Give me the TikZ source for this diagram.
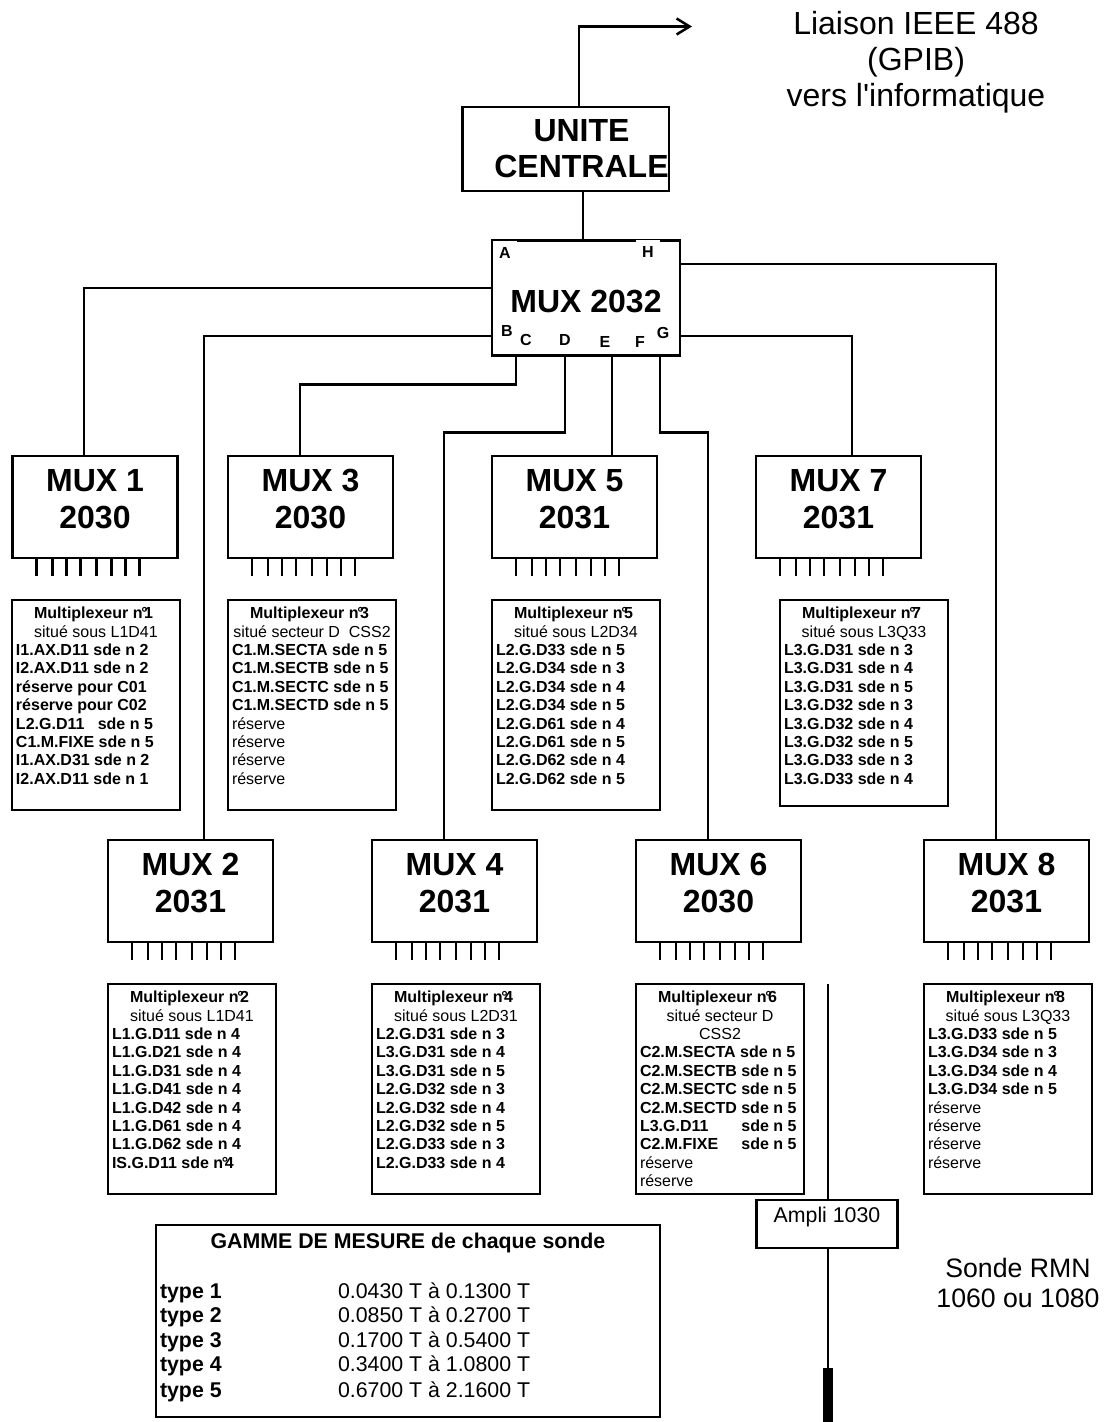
\documentclass[tikz,border=0pt]{standalone}
\usepackage{fontspec}
\setmainfont{Liberation Sans}
\usetikzlibrary{positioning,arrows.meta,calc}
\newcommand{\infotext}[2][147pt]{\parbox[c][#1][t]{120pt}{\fontsize{12}{13.8}\selectfont\raggedright #2}}
\newcommand{\infohead}[1]{\centerline{\textbf{Multiplexeur n\kern-.08em°\kern-.22em#1\kern.3em}}}
\newcommand{\infosub}[1]{\centerline{#1}}
\newcommand{\muxlbl}[2]{#1\\#2\\[-15.6pt]\mbox{}}
\tikzset{
  every node/.style={outer sep=0pt},
  unitbox/.style={draw,line width=2pt,minimum width=155pt,minimum height=63pt,inner sep=0pt,
                  align=center,font=\fontsize{24}{27}\selectfont\bfseries},
  muxbox/.style={draw,line width=2pt,minimum width=123.75pt,minimum height=76.5pt,inner sep=0pt,
                 align=center,font=\fontsize{24}{27.6}\selectfont\bfseries},
  infobox/.style={draw,line width=1.3pt,inner xsep=3pt,inner ysep=5.25pt},
  portlbl/.style={inner sep=0pt,font=\fontsize{12}{14}\selectfont\bfseries},
  wire/.style={line width=1.9pt},
  pintick/.style={line width=1.6pt},
  bigtxt/.style={inner sep=0pt,align=center,font=\fontsize{24}{27}\selectfont},
  sondetxt/.style={inner sep=0pt,align=center,font=\fontsize{20}{22.5}\selectfont},
  gammetxt/.style={inner sep=0pt,anchor=base west,font=\fontsize{16}{18}\selectfont},
}
\begin{document}
\begin{tikzpicture}[x=0.75pt,y=-0.75pt]
  \useasboundingbox (0,0) rectangle (1104,1422);
  % central unit and top multiplexer
  \node[unitbox] (unit) at (565.5,149) {\hspace*{24pt}UNITE\\\hspace*{24pt}CENTRALE};
  \node[draw,line width=2pt,minimum width=141pt,minimum height=86pt,inner sep=0pt,
        text height=21.7pt,text depth=0pt,
        font=\fontsize{24}{27}\selectfont\bfseries] (mux0) at (586,298) {MUX 2032};
  \node[bigtxt] (liaison) at (916,62) {Liaison IEEE 488\\(GPIB)\\vers l\textquotesingle informatique};
  \coordinate (gpib) at (692,26.5);
  \draw[wire,-{Straight Barb[length=9.75pt,width=12pt]}] ($(unit.north)+(13.5,0)$) |- (gpib);
  \draw[wire] ($(mux0.north)+(-3,0)$) -- ($(unit.south)+(17.5,0)$);
  % port letters
  \node[portlbl,fill=white,minimum size=18pt] (pa) at (505,253) {A};
  \node[portlbl,fill=white,minimum size=18pt] (ph) at (648,252) {H};
  \node[portlbl] (pb) at (507,331) {B};
  \node[portlbl] (pc) at (526,340) {C};
  \node[portlbl] (pd) at (565,340) {D};
  \node[portlbl] (pe) at (605,342) {E};
  \node[portlbl] (pf) at (640,342) {F};
  \node[portlbl] (pg) at (663,333) {G};
  % upper row
  \node[muxbox] (mux1) at (95,507) {\muxlbl{MUX 1}{2030}};
  \node[muxbox] (mux3) at (310.5,507) {\muxlbl{MUX 3}{2030}};
  \node[muxbox] (mux5) at (574.5,507) {\muxlbl{MUX 5}{2031}};
  \node[muxbox] (mux7) at (838.5,507) {\muxlbl{MUX 7}{2031}};
  % lower row
  \node[muxbox] (mux2) at (190.5,891) {\muxlbl{MUX 2}{2031}};
  \node[muxbox] (mux4) at (454.5,891) {\muxlbl{MUX 4}{2031}};
  \node[muxbox] (mux6) at (718.5,891) {\muxlbl{MUX 6}{2030}};
  \node[muxbox] (mux8) at (1006.5,891) {\muxlbl{MUX 8}{2031}};
  % pins
  \foreach \m in {mux1,mux2,mux3,mux4,mux5,mux6,mux7,mux8}
    \foreach \dx in {24,40,54,68,84,99,113,127}
      \draw[pintick] ($(\m.south west)+(\dx,0)$) -- ++(0,18);
  % wires from the top multiplexer
  \draw[wire] ($(mux0.west)+(0,-10)$) -| ($(mux1.north)+(-11,0)$);
  \draw[wire] ($(mux0.west)+(0,38)$) -| ($(mux2.north)+(13.5,0)$);
  \draw[wire] ($(mux0.south west)+(24,0)$) -- ++(0,29) -| ($(mux3.north)+(-10.5,0)$);
  \draw[wire] ($(mux0.south west)+(73,0)$) -- ++(0,77) -| ($(mux4.north)+(-10.5,0)$);
  \draw[wire] ($(mux0.south west)+(120,0)$) -- ($(mux5.north)+(37.5,0)$);
  \draw[wire] ($(mux0.south west)+(168,0)$) -- ++(0,77) -| ($(mux6.north)+(-10.5,0)$);
  \draw[wire] ($(mux0.east)+(0,38)$) -| ($(mux7.north)+(13.5,0)$);
  \draw[wire] ($(mux0.east)+(0,-34)$) -| ($(mux8.north)+(-10.5,0)$);
  % channel lists
  \node[infobox,anchor=north west] (info1) at (12,600) {\infotext{%
    \infohead{1}\infosub{situé sous L1D41}
    \textbf{I1.AX.D11 sde n 2}\\\textbf{I2.AX.D11 sde n 2}\\\textbf{réserve pour C01}\\\textbf{réserve pour C02}\\
    \textbf{L2.G.D11\ \ \ sde n 5}\\\textbf{C1.M.FIXE sde n 5}\\\textbf{I1.AX.D31 sde n 2}\\\textbf{I2.AX.D11 sde n 1}}};
  \node[infobox,anchor=north west] (info3) at (228,600) {\infotext{%
    \infohead{3}\infosub{situé secteur D\ \ CSS2}
    \textbf{C1.M.SECTA sde n 5}\\\textbf{C1.M.SECTB sde n 5}\\\textbf{C1.M.SECTC sde n 5}\\\textbf{C1.M.SECTD sde n 5}\\
    réserve\\réserve\\réserve\\réserve}};
  \node[infobox,anchor=north west] (info5) at (492,600) {\infotext{%
    \infohead{5}\infosub{situé sous L2D34}
    \textbf{L2.G.D33 sde n 5}\\\textbf{L2.G.D34 sde n 3}\\\textbf{L2.G.D34 sde n 4}\\\textbf{L2.G.D34 sde n 5}\\
    \textbf{L2.G.D61 sde n 4}\\\textbf{L2.G.D61 sde n 5}\\\textbf{L2.G.D62 sde n 4}\\\textbf{L2.G.D62 sde n 5}}};
  \node[infobox,anchor=north west] (info7) at (780,600) {\infotext[144pt]{%
    \infohead{7}\infosub{situé sous L3Q33}
    \textbf{L3.G.D31 sde n 3}\\\textbf{L3.G.D31 sde n 4}\\\textbf{L3.G.D31 sde n 5}\\\textbf{L3.G.D32 sde n 3}\\
    \textbf{L3.G.D32 sde n 4}\\\textbf{L3.G.D32 sde n 5}\\\textbf{L3.G.D33 sde n 3}\\\textbf{L3.G.D33 sde n 4}}};
  \node[infobox,anchor=north west] (info2) at (108,984) {\infotext{%
    \infohead{2}\infosub{situé sous L1D41}
    \textbf{L1.G.D11 sde n 4}\\\textbf{L1.G.D21 sde n 4}\\\textbf{L1.G.D31 sde n 4}\\\textbf{L1.G.D41 sde n 4}\\
    \textbf{L1.G.D42 sde n 4}\\\textbf{L1.G.D61 sde n 4}\\\textbf{L1.G.D62 sde n 4}\\\textbf{IS.G.D11 sde n\kern-.08em°\kern-.22em4}}};
  \node[infobox,anchor=north west] (info4) at (372,984) {\infotext{%
    \infohead{4}\infosub{situé sous L2D31}
    \textbf{L2.G.D31 sde n 3}\\\textbf{L3.G.D31 sde n 4}\\\textbf{L3.G.D31 sde n 5}\\\textbf{L2.G.D32 sde n 3}\\
    \textbf{L2.G.D32 sde n 4}\\\textbf{L2.G.D32 sde n 5}\\\textbf{L2.G.D33 sde n 3}\\\textbf{L2.G.D33 sde n 4}}};
  \node[infobox,anchor=north west] (info6) at (636,984) {\infotext{%
    \infohead{6}\infosub{situé secteur D}\infosub{CSS2}
    \textbf{C2.M.SECTA sde n 5}\\\textbf{C2.M.SECTB sde n 5}\\\textbf{C2.M.SECTC sde n 5}\\\textbf{C2.M.SECTD sde n 5}\\
    \textbf{\makebox[72.7pt][l]{L3.G.D11} sde n 5}\\\textbf{\makebox[72.7pt][l]{C2.M.FIXE} sde n 5}\\réserve\\réserve}};
  \node[infobox,anchor=north west] (info8) at (924,984) {\infotext{%
    \infohead{8}\infosub{situé sous L3Q33}
    \textbf{L3.G.D33 sde n 5}\\\textbf{L3.G.D34 sde n 3}\\\textbf{L3.G.D34 sde n 4}\\\textbf{L3.G.D34 sde n 5}\\
    réserve\\réserve\\réserve\\réserve}};
  % probe chain
  \node[draw,line width=2pt,minimum width=106pt,inner sep=0pt,text height=16.5pt,text depth=19.5pt,
        font=\fontsize{16}{18}\selectfont] (ampli) at (827,1224) {Ampli 1030};
  \coordinate (cable) at (828,984);
  \node[fill=black,minimum width=7.5pt,minimum height=40.5pt,inner sep=0pt] (probe) at (828,1395) {};
  \draw[wire] (cable) -- (cable |- ampli.north);
  \draw[wire] (cable |- ampli.south) -- (probe);
  \node[sondetxt] (sonde) at (1018,1283) {Sonde RMN\\1060 ou 1080};
  % measuring ranges
  \node[draw,line width=2pt,minimum width=378pt,inner sep=0pt,text height=17.25pt,text depth=126.75pt,
        font=\fontsize{16}{18}\selectfont\bfseries] (gamme) at (408,1321) {GAMME DE MESURE de chaque sonde};
  \foreach \i/\y/\rng in {1/1298/0.0430 T à 0.1300 T,2/1322/0.0850 T à 0.2700 T,3/1347/0.1700 T à 0.5400 T,
                          4/1371/0.3400 T à 1.0800 T,5/1397/0.6700 T à 2.1600 T} {
    \node[gammetxt] (type\i) at (160,\y) {\textbf{type \i}};
    \node[gammetxt] (range\i) at (338,\y) {\rng};
  }
\end{tikzpicture}
\end{document}
